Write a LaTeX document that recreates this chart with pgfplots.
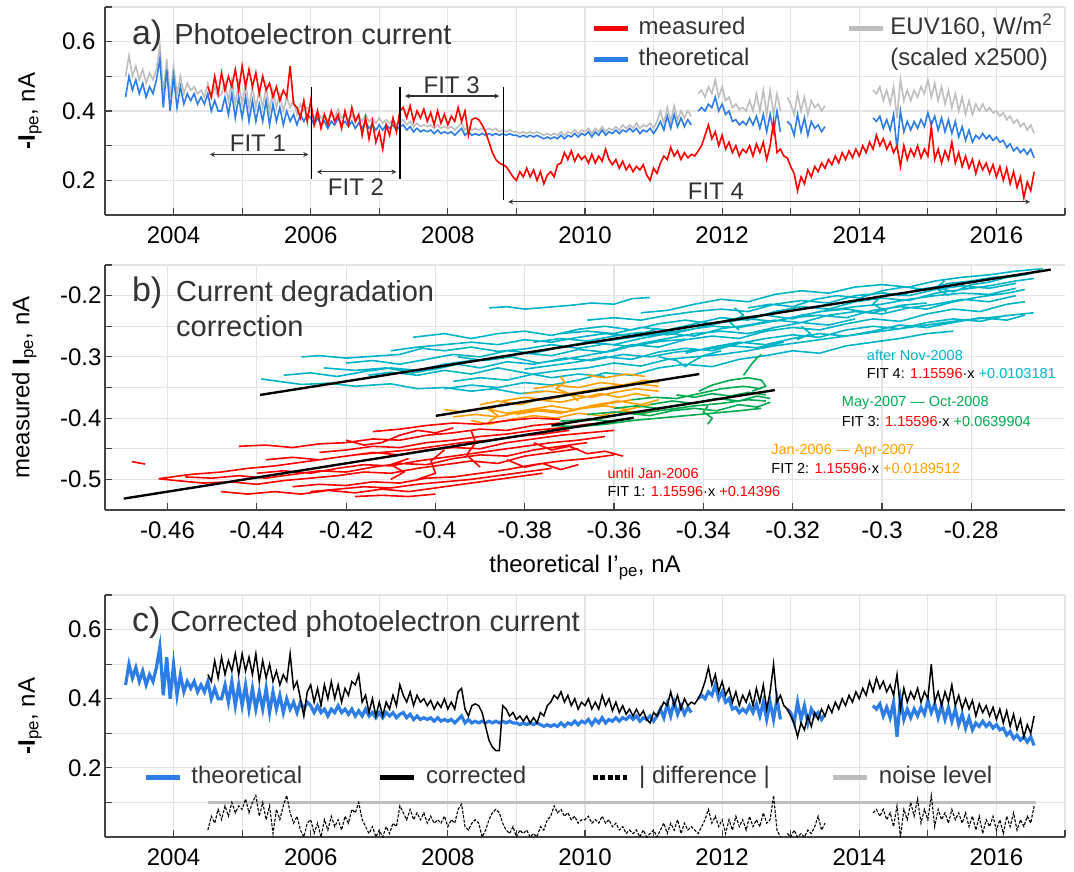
\documentclass[border=0pt]{standalone}
\usepackage{fontspec}
\setmainfont{Liberation Sans}
\usepackage{pgfplots}
\usepackage{pgfplotstable}
\pgfplotsset{compat=1.18}
\definecolor{cred}{RGB}{255,0,0}
\definecolor{cblue}{RGB}{45,125,230}
\definecolor{cgray}{RGB}{190,190,190}
\definecolor{ccyan}{RGB}{0,180,200}
\definecolor{corange}{RGB}{255,160,0}
\definecolor{cgreen}{RGB}{0,170,80}
\definecolor{ctext}{RGB}{51,51,51}
\definecolor{cgrid}{RGB}{228,228,228}
\definecolor{caxis}{RGB}{68,68,68}

\pgfplotstableread{
t theo euv meas corr diff
2003.30 0.44 0.50 nan nan nan
2003.35 0.50 0.56 nan nan nan
2003.40 0.46 0.50 nan nan nan
2003.45 0.49 0.53 nan nan nan
2003.50 0.45 0.49 nan nan nan
2003.55 0.48 0.52 nan nan nan
2003.60 0.44 0.48 nan nan nan
2003.65 0.47 0.51 nan nan nan
2003.70 0.45 0.49 nan nan nan
2003.75 0.49 0.52 nan nan nan
2003.80 0.55 0.59 nan nan nan
2003.85 0.41 0.45 nan nan nan
2003.90 0.52 0.55 nan nan nan
2003.95 0.40 0.44 nan nan nan
2004.00 0.50 0.53 nan nan nan
2004.05 0.41 0.45 nan nan nan
2004.10 0.47 0.50 nan nan nan
2004.15 0.42 0.45 nan nan nan
2004.20 0.45 0.48 nan nan nan
2004.25 0.43 0.46 nan nan nan
2004.30 0.45 0.47 nan nan nan
2004.35 0.42 0.45 nan nan nan
2004.40 0.44 0.46 nan nan nan
2004.45 0.42 0.44 nan nan nan
2004.50 0.45 0.48 0.47 0.47 0.02
2004.55 0.40 0.44 0.44 0.45 0.06
2004.60 0.43 0.47 0.50 0.51 0.04
2004.65 0.40 0.44 0.45 0.46 0.08
2004.70 0.40 0.45 0.51 0.52 0.05
2004.75 0.44 0.48 0.46 0.47 0.09
2004.80 0.39 0.43 0.50 0.51 0.06
2004.85 0.45 0.49 0.47 0.48 0.10
2004.90 0.38 0.42 0.52 0.53 0.07
2004.95 0.44 0.48 0.46 0.47 0.09
2005.00 0.38 0.42 0.53 0.53 0.08
2005.05 0.44 0.48 0.47 0.48 0.11
2005.10 0.37 0.41 0.52 0.52 0.07
2005.15 0.43 0.47 0.47 0.47 0.10
2005.20 0.37 0.41 0.51 0.53 0.12
2005.25 0.42 0.46 0.45 0.45 0.06
2005.30 0.37 0.41 0.50 0.51 0.10
2005.35 0.43 0.47 0.46 0.46 0.05
2005.40 0.36 0.40 0.48 0.50 0.09
2005.45 0.42 0.46 0.44 0.45 0.01
2005.50 0.37 0.41 0.47 0.48 0.08
2005.55 0.41 0.45 0.43 0.44 0.05
2005.60 0.36 0.40 0.46 0.47 0.09
2005.65 0.40 0.44 0.44 0.45 0.12
2005.70 0.37 0.41 0.53 0.53 0.07
2005.75 0.39 0.43 0.42 0.43 0.04
2005.80 0.36 0.39 0.41 0.45 0.06
2005.85 0.39 0.42 0.38 0.40 0.02
2005.90 0.37 0.40 0.43 0.35 0.00
2005.95 0.39 0.41 0.37 0.42 0.04
2006.00 0.38 0.40 0.43 0.44 0.05
2006.05 0.36 0.38 0.36 0.39 0.01
2006.10 0.38 0.40 0.40 0.43 0.04
2006.15 0.36 0.38 0.35 0.38 0.00
2006.20 0.37 0.39 0.39 0.44 0.05
2006.25 0.35 0.37 0.36 0.40 0.02
2006.30 0.37 0.395 0.40 0.45 0.06
2006.35 0.36 0.38 0.37 0.40 0.03
2006.40 0.38 0.405 0.39 0.44 0.05
2006.45 0.36 0.38 0.35 0.39 0.02
2006.50 0.37 0.39 0.40 0.43 0.06
2006.55 0.355 0.375 0.36 0.41 0.04
2006.60 0.37 0.39 0.41 0.45 0.08
2006.65 0.35 0.37 0.37 0.44 0.07
2006.70 0.365 0.385 0.39 0.47 0.10
2006.75 0.35 0.37 0.33 0.39 0.05
2006.80 0.37 0.39 0.38 0.41 0.03
2006.85 0.35 0.37 0.32 0.36 0.01
2006.90 0.36 0.38 0.37 0.40 0.03
2006.95 0.345 0.365 0.31 0.35 0.00
2007.00 0.36 0.38 0.34 0.39 0.02
2007.05 0.345 0.365 0.29 0.35 0.00
2007.10 0.36 0.375 0.36 0.39 0.03
2007.15 0.35 0.365 0.33 0.37 0.01
2007.20 0.36 0.375 0.38 0.41 0.04
2007.25 0.345 0.36 0.34 0.38 0.03
2007.30 0.355 0.37 0.40 0.44 0.09
2007.35 0.36 0.375 0.41 0.41 0.07
2007.40 0.345 0.36 0.38 0.39 0.05
2007.45 0.355 0.37 0.415 0.42 0.08
2007.50 0.34 0.355 0.37 0.38 0.05
2007.55 0.35 0.365 0.40 0.41 0.07
2007.60 0.34 0.355 0.38 0.39 0.05
2007.65 0.345 0.36 0.405 0.40 0.07
2007.70 0.34 0.355 0.37 0.38 0.04
2007.75 0.345 0.36 0.395 0.395 0.06
2007.80 0.335 0.35 0.36 0.37 0.04
2007.85 0.345 0.36 0.40 0.39 0.05
2007.90 0.335 0.35 0.365 0.375 0.04
2007.95 0.34 0.355 0.39 0.40 0.06
2008.00 0.335 0.35 0.36 0.37 0.03
2008.05 0.34 0.355 0.385 0.39 0.05
2008.10 0.33 0.345 0.37 0.37 0.04
2008.15 0.34 0.355 0.41 0.42 0.08
2008.20 0.35 0.365 0.37 0.43 0.095
2008.25 0.33 0.345 0.40 0.37 0.03
2008.30 0.34 0.355 0.33 0.35 0.02
2008.35 0.33 0.345 0.375 0.38 0.04
2008.40 0.335 0.35 0.38 0.385 0.05
2008.45 0.33 0.345 0.375 0.38 0.04
2008.50 0.335 0.35 0.36 0.36 0.00
2008.55 0.33 0.345 0.34 0.32 0.02
2008.60 0.335 0.35 0.31 0.28 0.05
2008.65 0.33 0.345 0.28 0.26 0.07
2008.70 0.335 0.35 0.26 0.25 0.08
2008.75 0.33 0.34 0.25 0.25 0.07
2008.80 0.335 0.345 0.245 0.38 0.04
2008.85 0.33 0.34 0.24 0.37 0.02
2008.90 0.335 0.345 0.225 0.35 0.01
2008.95 0.33 0.34 0.21 0.36 0.03
2009.00 0.33 0.34 0.20 0.34 0.00
2009.05 0.325 0.335 0.225 0.35 0.02
2009.10 0.33 0.34 0.21 0.335 0.01
2009.15 0.325 0.335 0.235 0.35 0.02
2009.20 0.33 0.34 0.21 0.33 0.00
2009.25 0.325 0.335 0.23 0.345 0.01
2009.30 0.33 0.34 0.20 0.33 0.00
2009.35 0.325 0.335 0.225 0.36 0.03
2009.40 0.32 0.33 0.19 0.35 0.02
2009.45 0.325 0.335 0.215 0.38 0.05
2009.50 0.32 0.33 0.225 0.39 0.06
2009.55 0.325 0.335 0.21 0.41 0.09
2009.60 0.32 0.33 0.245 0.40 0.07
2009.65 0.33 0.34 0.25 0.42 0.08
2009.70 0.32 0.33 0.28 0.39 0.06
2009.75 0.33 0.34 0.26 0.41 0.07
2009.80 0.325 0.335 0.285 0.38 0.05
2009.85 0.335 0.345 0.255 0.40 0.06
2009.90 0.325 0.335 0.275 0.37 0.04
2009.95 0.335 0.345 0.26 0.39 0.05
2010.00 0.33 0.34 0.27 0.38 0.05
2010.05 0.34 0.35 0.25 0.40 0.06
2010.10 0.325 0.335 0.275 0.37 0.04
2010.15 0.34 0.35 0.25 0.39 0.05
2010.20 0.33 0.34 0.27 0.37 0.04
2010.25 0.345 0.355 0.255 0.41 0.06
2010.30 0.33 0.34 0.29 0.38 0.04
2010.35 0.34 0.35 0.26 0.40 0.05
2010.40 0.335 0.345 0.245 0.365 0.03
2010.45 0.345 0.355 0.26 0.39 0.04
2010.50 0.335 0.345 0.235 0.36 0.02
2010.55 0.345 0.36 0.255 0.38 0.03
2010.60 0.34 0.35 0.23 0.355 0.01
2010.65 0.35 0.36 0.245 0.37 0.02
2010.70 0.34 0.35 0.225 0.35 0.01
2010.75 0.35 0.365 0.24 0.37 0.02
2010.80 0.335 0.35 0.23 0.35 0.00
2010.85 0.345 0.36 0.245 0.365 0.02
2010.90 0.34 0.355 0.215 0.34 0.00
2010.95 0.35 0.365 0.20 0.33 0.01
2011.00 0.335 0.35 0.235 0.36 0.02
2011.05 0.35 0.37 0.22 0.35 0.00
2011.10 0.37 0.40 0.25 0.37 0.02
2011.15 0.345 0.365 0.27 0.39 0.04
2011.20 0.385 0.41 0.26 0.38 0.01
2011.25 0.35 0.37 0.295 0.42 0.04
2011.30 0.39 0.415 0.27 0.38 0.02
2011.35 0.355 0.375 0.285 0.41 0.05
2011.40 0.38 0.40 0.26 0.37 0.01
2011.45 0.355 0.38 0.28 0.40 0.04
2011.50 0.375 0.40 0.265 0.38 0.02
2011.55 0.36 0.385 0.275 0.39 0.03
2011.60 nan nan 0.27 0.385 0.02
2011.65 0.40 0.45 0.285 0.40 0.01
2011.70 0.41 0.46 0.30 0.42 0.03
2011.75 0.40 0.44 0.33 0.45 0.05
2011.80 0.42 0.47 0.36 0.49 0.08
2011.85 0.41 0.45 0.32 0.44 0.04
2011.90 0.44 0.49 0.34 0.47 0.06
2011.95 0.40 0.44 0.30 0.42 0.03
2012.00 0.42 0.47 0.33 0.45 0.05
2012.05 0.39 0.43 0.29 0.41 0.01
2012.10 0.40 0.44 0.31 0.43 0.05
2012.15 0.37 0.41 0.28 0.39 0.02
2012.20 0.375 0.42 0.30 0.42 0.06
2012.25 0.36 0.405 0.27 0.38 0.03
2012.30 0.37 0.41 0.29 0.41 0.05
2012.35 0.36 0.40 0.28 0.39 0.02
2012.40 0.38 0.43 0.30 0.42 0.06
2012.45 0.36 0.40 0.27 0.38 0.03
2012.50 0.385 0.45 0.305 0.43 0.05
2012.55 0.35 0.40 0.28 0.39 0.03
2012.60 0.39 0.46 0.31 0.44 0.07
2012.65 0.34 0.39 0.26 0.37 0.04
2012.70 0.39 0.46 0.30 0.42 0.05
2012.75 0.34 0.39 0.37 0.50 0.12
2012.80 0.40 0.45 0.28 0.39 0.02
2012.85 0.34 0.40 0.29 0.41 0.00
2012.90 nan nan 0.27 0.38 nan
2012.95 0.37 0.44 0.265 0.37 0.01
2013.00 0.36 0.42 0.24 0.35 0.00
2013.05 0.33 0.39 0.22 0.33 0.02
2013.10 0.39 0.45 0.17 0.29 0.00
2013.15 0.34 0.40 0.21 0.33 0.01
2013.20 0.38 0.44 0.19 0.31 0.00
2013.25 0.33 0.39 0.23 0.35 0.02
2013.30 0.37 0.43 0.21 0.32 0.01
2013.35 0.35 0.41 0.24 0.36 0.03
2013.40 0.36 0.42 0.225 0.34 0.06
2013.45 0.34 0.40 0.25 0.37 0.02
2013.50 0.355 0.415 0.235 0.35 0.04
2013.55 nan nan 0.26 0.38 nan
2013.60 nan nan 0.245 0.36 nan
2013.65 nan nan 0.27 0.39 nan
2013.70 nan nan 0.25 0.37 nan
2013.75 nan nan 0.28 0.40 nan
2013.80 nan nan 0.26 0.38 nan
2013.85 nan nan 0.285 0.41 nan
2013.90 nan nan 0.265 0.39 nan
2013.95 nan nan 0.29 0.42 nan
2014.00 nan nan 0.27 0.40 nan
2014.05 nan nan 0.30 0.43 nan
2014.10 nan nan 0.28 0.41 nan
2014.15 nan nan 0.31 0.45 nan
2014.20 0.38 0.46 0.29 0.42 0.07
2014.25 0.37 0.45 0.33 0.46 0.08
2014.30 0.385 0.47 0.30 0.43 0.06
2014.35 0.35 0.43 0.32 0.45 0.08
2014.40 0.375 0.46 0.29 0.42 0.05
2014.45 0.345 0.42 0.31 0.44 0.07
2014.50 0.39 0.47 0.28 0.41 0.03
2014.55 0.29 0.38 0.30 0.47 0.09
2014.60 0.40 0.49 0.24 0.37 0.00
2014.65 0.34 0.43 0.30 0.43 0.08
2014.70 0.37 0.46 0.26 0.39 0.05
2014.75 0.345 0.43 0.29 0.42 0.10
2014.80 0.37 0.46 0.27 0.40 0.06
2014.85 0.35 0.44 0.30 0.43 0.11
2014.90 0.375 0.47 0.265 0.39 0.04
2014.95 0.355 0.45 0.29 0.42 0.08
2015.00 0.395 0.49 0.27 0.40 0.05
2015.05 0.36 0.44 0.355 0.50 0.12
2015.10 0.385 0.48 0.26 0.39 0.03
2015.15 0.345 0.43 0.29 0.42 0.08
2015.20 0.38 0.47 0.25 0.38 0.05
2015.25 0.34 0.42 0.285 0.42 0.07
2015.30 0.375 0.46 0.26 0.39 0.04
2015.35 0.335 0.41 0.31 0.44 0.08
2015.40 0.37 0.45 0.25 0.38 0.05
2015.45 0.325 0.40 0.28 0.41 0.07
2015.50 0.355 0.44 0.24 0.37 0.04
2015.55 0.315 0.39 0.27 0.40 0.07
2015.60 0.345 0.43 0.235 0.37 0.03
2015.65 0.31 0.39 0.26 0.395 0.06
2015.70 0.33 0.42 0.22 0.35 0.02
2015.75 0.32 0.40 0.255 0.385 0.06
2015.80 0.335 0.42 0.23 0.36 0.01
2015.85 0.32 0.40 0.25 0.38 0.05
2015.90 0.33 0.41 0.22 0.35 0.03
2015.95 0.315 0.395 0.245 0.375 0.06
2016.00 0.325 0.40 0.21 0.34 0.02
2016.05 0.31 0.385 0.24 0.37 0.05
2016.10 0.315 0.395 0.20 0.33 0.01
2016.15 0.295 0.375 0.235 0.365 0.06
2016.20 0.305 0.385 0.19 0.32 0.03
2016.25 0.285 0.365 0.225 0.355 0.07
2016.30 0.295 0.375 0.18 0.31 0.02
2016.35 0.28 0.355 0.21 0.34 0.05
2016.40 0.29 0.365 0.15 0.29 0.03
2016.45 0.275 0.345 0.195 0.325 0.06
2016.50 0.29 0.36 0.17 0.30 0.04
2016.55 0.265 0.335 0.225 0.35 0.09
}\tsdata

\pgfplotsset{
  base/.style={
    scale only axis, width=960pt,
    axis x line*=bottom, axis y line*=left,
    axis line style={caxis, line width=1.5pt},
    tick style={caxis, line width=1.2pt},
    tick align=inside, major tick length=7pt, minor tick length=7pt,
    grid=both,
    major grid style={cgrid, line width=1.2pt},
    minor grid style={cgrid, line width=1.2pt},
    tick label style={font=\fontsize{24}{28}\selectfont, text=black},
    /pgf/number format/assume math mode=true,
    label style={font=\fontsize{24}{28}\selectfont, text=black},
    unbounded coords=jump,
    no markers,
    legend cell align=left,
    legend image code/.code={\draw[##1] (0pt,0pt) -- (34pt,0pt);},
  },
  leg/.style={
    draw=none, fill=none, inner sep=0pt, outer sep=0pt,
    font=\fontsize{24}{28}\selectfont, text=ctext,
    nodes={inner sep=0pt, text height=17pt, text depth=5pt},
  },
  trk/.style={line width=1.6pt, line join=round, forget plot},
}

\begin{document}
\begin{tikzpicture}
\useasboundingbox (0pt,0pt) rectangle (1074pt,-871pt);

% ---------------- panel a ----------------
\begin{axis}[base, at={(105pt,-7pt)}, anchor=north west, height=208pt,
  xmin=2003, xmax=2017, ymin=0.1, ymax=0.7,
  xtick={2004,2006,2008,2010,2012,2014,2016},
  minor xtick={2003,2005,2007,2009,2011,2013,2015,2017},
  ytick={0.2,0.4,0.6}, minor ytick={0.1,0.3,0.5,0.7},
  xticklabel style={/pgf/number format/1000 sep={}, yshift=-8pt},
  yticklabel style={xshift=-6pt},
  ylabel={\textbf{-I}\textsubscript{pe}, nA},
  ylabel style={at={(axis description cs:-0.078,0.5)}, anchor=center},
  legend columns=2,
  legend style={leg, at={(rel axis cs:0.507,0.822)}, anchor=west, row sep=9.7pt,
    /tikz/column 1/.style={column sep=8pt},
    /tikz/column 2/.style={column sep=97pt},
    /tikz/column 3/.style={column sep=5pt}},
]
\addlegendimage{cred, line width=5pt}\addlegendentry{measured}
\addlegendimage{cgray, line width=5pt}\addlegendentry{EUV160, W/m\textsuperscript{2}}
\addlegendimage{cblue, line width=5pt}\addlegendentry{theoretical}
\addlegendimage{empty legend}\addlegendentry{(scaled x2500)}

\addplot[cgray, line width=1.6pt, forget plot] table[x=t, y=euv] {\tsdata};
\addplot[cblue, line width=1.6pt, forget plot] table[x=t, y=theo] {\tsdata};
\addplot[cred, line width=1.6pt, forget plot] table[x=t, y=meas] {\tsdata};

\draw[black, line width=1.6pt] (axis cs:2006.01,0.469) -- (axis cs:2006.01,0.203);
\draw[black, line width=1.6pt] (axis cs:2007.30,0.469) -- (axis cs:2007.30,0.203);
\draw[black, line width=1.6pt] (axis cs:2008.81,0.469) -- (axis cs:2008.81,0.143);
\draw[<->, >=stealth, ctext, line width=1.2pt] (axis cs:2004.53,0.2745) -- (axis cs:2005.965,0.2745);
\draw[<->, >=stealth, ctext, line width=1.2pt] (axis cs:2006.09,0.2245) -- (axis cs:2007.25,0.2245);
\draw[<->, >=stealth, ctext, line width=1.2pt] (axis cs:2007.375,0.443) -- (axis cs:2008.75,0.443);
\draw[<->, >=stealth, ctext, line width=1.2pt] (axis cs:2008.88,0.138) -- (axis cs:2016.49,0.138);
\node[anchor=base, inner sep=0pt, text=ctext, font=\fontsize{24}{28}\selectfont] at (axis cs:2005.23,0.282) {FIT 1};
\node[anchor=base, inner sep=0pt, text=ctext, font=\fontsize{24}{28}\selectfont] at (axis cs:2006.66,0.157) {FIT 2};
\node[anchor=base, inner sep=0pt, text=ctext, font=\fontsize{24}{28}\selectfont] at (axis cs:2008.055,0.450) {FIT 3};
\node[anchor=base, inner sep=0pt, text=ctext, font=\fontsize{24}{28}\selectfont] at (axis cs:2011.91,0.146) {FIT 4};
\node[anchor=base west, inner sep=0pt, text=ctext] at (rel axis cs:0.028,0.822)
  {\fontsize{34}{40}\selectfont a)\hspace{12pt}\fontsize{29}{34}\selectfont Photoelectron current};
\end{axis}

% ---------------- panel b ----------------
\begin{axis}[base, at={(105pt,-265pt)}, anchor=north west, height=245pt,
  xmin=-0.474, xmax=-0.259, ymin=-0.55, ymax=-0.15,
  xtick={-0.46,-0.44,-0.42,-0.40,-0.38,-0.36,-0.34,-0.32,-0.30,-0.28},
  ytick={-0.5,-0.4,-0.3,-0.2}, minor ytick={-0.55,-0.45,-0.35,-0.25,-0.15},
  xticklabel style={yshift=-8pt},
  ylabel={measured \textbf{I}\textsubscript{pe}, nA},
  ylabel style={at={(axis description cs:-0.084,0.5)}, anchor=center},
  xlabel={theoretical I’\textsubscript{pe}, nA},
  xlabel style={at={(axis description cs:0.5,-0.255)}, anchor=base},
]
% after Nov-2008
\addplot[ccyan, trk] coordinates {
(-0.439,-0.336) (-0.435,-0.340) (-0.430,-0.345) (-0.424,-0.343) (-0.418,-0.348) (-0.410,-0.344) (-0.404,-0.352) (-0.398,-0.350) (-0.392,-0.356) (-0.387,-0.352) (-0.381,-0.360) (-0.376,-0.356) (nan,nan)
(-0.430,-0.300) (-0.426,-0.298) (-0.420,-0.302) (-0.414,-0.299) (-0.408,-0.296) (-0.403,-0.286) (-0.398,-0.290) (-0.392,-0.284) (-0.386,-0.291) (-0.380,-0.287) (-0.374,-0.280) (-0.368,-0.286) (-0.362,-0.279) (-0.356,-0.283) (-0.350,-0.275) (-0.344,-0.271) (nan,nan)
(-0.425,-0.318) (-0.418,-0.322) (-0.411,-0.318) (-0.405,-0.326) (-0.400,-0.320) (-0.395,-0.312) (-0.390,-0.318) (-0.384,-0.308) (-0.378,-0.312) (-0.371,-0.302) (-0.365,-0.306) (-0.358,-0.296) (-0.352,-0.300) (-0.346,-0.292) (-0.340,-0.288) (-0.334,-0.282) (-0.328,-0.285) (-0.322,-0.276) (nan,nan)
(-0.388,-0.220) (-0.384,-0.218) (-0.380,-0.222) (-0.375,-0.219) (-0.370,-0.216) (-0.365,-0.212) (-0.360,-0.214) (-0.356,-0.205) (-0.352,-0.203) (nan,nan)
(-0.405,-0.268) (-0.398,-0.262) (-0.392,-0.270) (-0.386,-0.262) (-0.380,-0.258) (-0.374,-0.265) (-0.368,-0.255) (-0.362,-0.250) (-0.356,-0.256) (-0.350,-0.246) (-0.344,-0.240) (-0.338,-0.246) (-0.332,-0.236) (-0.326,-0.232) (-0.320,-0.238) (-0.314,-0.226) (-0.308,-0.222) (-0.302,-0.228) (-0.296,-0.216) (-0.290,-0.212) (nan,nan)
(-0.396,-0.340) (-0.390,-0.334) (-0.384,-0.338) (-0.378,-0.328) (-0.372,-0.322) (-0.366,-0.318) (-0.360,-0.310) (-0.354,-0.315) (-0.348,-0.304) (-0.342,-0.300) (-0.336,-0.296) (-0.330,-0.290) (-0.324,-0.282) (-0.318,-0.276) (-0.312,-0.270) (-0.306,-0.264) (-0.300,-0.258) (-0.294,-0.252) (-0.288,-0.246) (-0.282,-0.240) (-0.276,-0.236) (-0.270,-0.231) (-0.266,-0.228) (nan,nan)
(-0.386,-0.300) (-0.380,-0.294) (-0.374,-0.298) (-0.368,-0.288) (-0.362,-0.292) (-0.356,-0.280) (-0.350,-0.284) (-0.344,-0.272) (-0.338,-0.266) (-0.332,-0.270) (-0.326,-0.258) (-0.320,-0.252) (-0.314,-0.256) (-0.308,-0.246) (-0.302,-0.238) (-0.296,-0.242) (-0.290,-0.230) (-0.284,-0.222) (-0.278,-0.226) (-0.272,-0.214) (-0.268,-0.210) (nan,nan)
(-0.372,-0.262) (-0.366,-0.258) (-0.360,-0.262) (-0.354,-0.252) (-0.348,-0.256) (-0.342,-0.246) (-0.336,-0.236) (-0.330,-0.240) (-0.324,-0.226) (-0.318,-0.218) (-0.312,-0.222) (-0.306,-0.210) (-0.300,-0.204) (-0.294,-0.208) (-0.288,-0.196) (-0.282,-0.190) (-0.276,-0.184) (-0.270,-0.176) (-0.266,-0.172) (nan,nan)
(-0.354,-0.228) (-0.348,-0.224) (-0.342,-0.214) (-0.336,-0.206) (-0.330,-0.210) (-0.324,-0.198) (-0.318,-0.192) (-0.312,-0.196) (-0.306,-0.186) (-0.300,-0.182) (-0.294,-0.186) (-0.288,-0.176) (-0.282,-0.170) (-0.276,-0.166) (-0.270,-0.160) (-0.264,-0.156) (nan,nan)
(-0.380,-0.320) (-0.374,-0.314) (-0.368,-0.308) (-0.362,-0.300) (-0.356,-0.304) (-0.350,-0.292) (-0.344,-0.286) (-0.338,-0.290) (-0.332,-0.278) (-0.326,-0.270) (-0.320,-0.264) (-0.314,-0.268) (-0.308,-0.256) (-0.302,-0.250) (-0.296,-0.254) (-0.290,-0.244) (-0.284,-0.238) (-0.278,-0.242) (-0.272,-0.232) (nan,nan)
(-0.350,-0.300) (-0.346,-0.306) (-0.344,-0.316) (-0.343,-0.310) (-0.340,-0.298) (-0.336,-0.290) (nan,nan)
(-0.362,-0.274) (-0.356,-0.268) (-0.350,-0.262) (-0.344,-0.256) (-0.338,-0.250) (-0.332,-0.252) (-0.326,-0.244) (-0.320,-0.236) (-0.314,-0.232) (-0.308,-0.236) (-0.302,-0.224) (-0.296,-0.218) (-0.290,-0.222) (-0.284,-0.210) (-0.278,-0.202) (-0.272,-0.196) (-0.268,-0.190) (nan,nan)
(-0.395,-0.300) (-0.389,-0.306) (-0.383,-0.300) (-0.377,-0.310) (-0.371,-0.304) (-0.365,-0.296) (-0.360,-0.290) (-0.354,-0.278) (-0.348,-0.270) (-0.342,-0.262) (-0.336,-0.258) (-0.330,-0.262) (-0.324,-0.252) (-0.318,-0.244) (-0.312,-0.248) (-0.306,-0.238) (nan,nan)
(-0.415,-0.330) (-0.410,-0.325) (-0.404,-0.330) (-0.398,-0.322) (-0.392,-0.328) (-0.386,-0.318) (-0.380,-0.326) (-0.374,-0.334) (-0.368,-0.328) (-0.362,-0.332) (nan,nan)
(-0.300,-0.195) (-0.296,-0.200) (-0.292,-0.190) (-0.288,-0.186) (-0.284,-0.194) (-0.280,-0.182) (-0.276,-0.178) (-0.272,-0.170) (-0.268,-0.166) (-0.265,-0.160) (nan,nan)
(-0.420,-0.310) (-0.414,-0.306) (-0.408,-0.312) (-0.402,-0.304) (-0.396,-0.296) (-0.390,-0.300) (-0.384,-0.290) (-0.378,-0.294) (-0.372,-0.284) (-0.366,-0.276) (-0.360,-0.280) (-0.354,-0.270) (-0.348,-0.262) (-0.342,-0.266) (-0.336,-0.254) (-0.330,-0.248) (-0.324,-0.240) (-0.318,-0.244) (-0.312,-0.232) (-0.306,-0.226) (-0.300,-0.230) (-0.294,-0.220) (-0.288,-0.214) (-0.282,-0.206) (-0.276,-0.210) (-0.270,-0.200) (nan,nan)
(-0.398,-0.352) (-0.392,-0.346) (-0.386,-0.350) (-0.380,-0.342) (-0.374,-0.346) (-0.368,-0.338) (-0.362,-0.326) (-0.356,-0.330) (-0.350,-0.318) (-0.344,-0.312) (-0.338,-0.316) (-0.332,-0.304) (-0.326,-0.298) (-0.320,-0.290) (-0.314,-0.294) (-0.308,-0.282) (-0.302,-0.276) (-0.296,-0.270) (-0.290,-0.262) (-0.284,-0.258) (nan,nan)
(-0.366,-0.240) (-0.360,-0.236) (-0.354,-0.240) (-0.348,-0.232) (-0.342,-0.226) (-0.336,-0.222) (-0.330,-0.226) (-0.324,-0.214) (-0.318,-0.208) (-0.312,-0.212) (-0.306,-0.200) (-0.300,-0.196) (-0.294,-0.200) (-0.288,-0.190) (-0.282,-0.184) (-0.276,-0.188) (-0.270,-0.180) (nan,nan)
(-0.378,-0.276) (-0.372,-0.270) (-0.366,-0.274) (-0.360,-0.266) (-0.354,-0.260) (-0.348,-0.264) (-0.342,-0.254) (-0.336,-0.244) (-0.330,-0.238) (-0.324,-0.242) (-0.318,-0.232) (-0.312,-0.224) (-0.306,-0.218) (-0.300,-0.214) (-0.294,-0.206) (-0.288,-0.200) (-0.282,-0.196) (-0.276,-0.198) (-0.270,-0.188) (nan,nan)
(-0.410,-0.290) (-0.404,-0.284) (-0.398,-0.280) (-0.392,-0.276) (-0.386,-0.280) (-0.380,-0.272) (-0.374,-0.276) (-0.368,-0.268) (-0.362,-0.262) (-0.356,-0.266) (-0.350,-0.254) (nan,nan)
(-0.344,-0.294) (-0.338,-0.284) (-0.332,-0.276) (-0.326,-0.280) (-0.320,-0.270) (-0.314,-0.262) (-0.308,-0.266) (-0.302,-0.258) (-0.296,-0.248) (-0.290,-0.252) (-0.284,-0.244) (-0.278,-0.236) (-0.272,-0.240) (-0.268,-0.232) (nan,nan)
(-0.330,-0.220) (-0.325,-0.214) (-0.320,-0.218) (-0.315,-0.206) (-0.310,-0.200) (-0.305,-0.204) (-0.300,-0.192) (-0.295,-0.186) (-0.290,-0.190) (-0.285,-0.180) (-0.280,-0.176) (-0.275,-0.170) (-0.270,-0.168) (nan,nan)
(-0.333,-0.220) (-0.331,-0.232) (-0.334,-0.244) (-0.332,-0.256) (nan,nan)
(-0.318,-0.250) (-0.316,-0.262) (-0.319,-0.272) (nan,nan)
(-0.300,-0.200) (-0.302,-0.214) (-0.299,-0.226) (nan,nan)
(-0.286,-0.176) (-0.288,-0.188) (-0.285,-0.200) (nan,nan)
(-0.434,-0.330) (-0.428,-0.326) (-0.422,-0.332) (-0.416,-0.324) (-0.410,-0.318) (-0.404,-0.322) (-0.398,-0.312) (-0.392,-0.306)
};
% Jan-2006 -- Apr-2007
\addplot[corange, trk] coordinates {
(-0.398,-0.386) (-0.394,-0.390) (-0.389,-0.384) (-0.384,-0.392) (-0.379,-0.386) (-0.374,-0.380) (-0.369,-0.386) (-0.364,-0.378) (-0.359,-0.372) (-0.354,-0.378) (-0.350,-0.370) (nan,nan)
(-0.392,-0.404) (-0.388,-0.410) (-0.383,-0.402) (-0.378,-0.396) (-0.373,-0.400) (-0.368,-0.392) (-0.363,-0.396) (-0.358,-0.388) (-0.353,-0.392) (-0.349,-0.384) (nan,nan)
(-0.385,-0.372) (-0.380,-0.366) (-0.375,-0.370) (-0.370,-0.362) (-0.365,-0.366) (-0.360,-0.358) (-0.355,-0.352) (-0.350,-0.356) (nan,nan)
(-0.378,-0.352) (-0.373,-0.346) (-0.368,-0.350) (-0.363,-0.342) (-0.358,-0.346) (-0.353,-0.338) (-0.350,-0.342) (nan,nan)
(-0.390,-0.378) (-0.386,-0.372) (-0.381,-0.378) (-0.377,-0.370) (-0.372,-0.374) (-0.368,-0.368) (-0.363,-0.360) (-0.359,-0.366) (-0.355,-0.360) (-0.352,-0.364) (nan,nan)
(-0.382,-0.394) (-0.377,-0.388) (-0.372,-0.392) (-0.367,-0.384) (-0.362,-0.380) (-0.357,-0.386) (-0.352,-0.378) (nan,nan)
(-0.372,-0.332) (-0.371,-0.342) (-0.373,-0.352) (-0.370,-0.360) (-0.368,-0.372) (nan,nan)
(-0.366,-0.330) (-0.362,-0.334) (-0.357,-0.328) (-0.353,-0.332) (nan,nan)
(-0.396,-0.398) (-0.391,-0.394) (-0.386,-0.398) (-0.381,-0.390) (-0.376,-0.386) (-0.371,-0.390) (-0.366,-0.382) (-0.361,-0.376) (-0.356,-0.370) (nan,nan)
(-0.380,-0.360) (-0.375,-0.356) (-0.370,-0.360) (-0.365,-0.354) (-0.360,-0.348) (-0.355,-0.344) (-0.350,-0.348) (nan,nan)
(-0.388,-0.406) (-0.386,-0.396) (-0.388,-0.386) (-0.385,-0.376)
};
% until Jan-2006
\addplot[cred, trk] coordinates {
(-0.462,-0.499) (-0.458,-0.502) (-0.452,-0.506) (-0.446,-0.504) (-0.440,-0.508) (-0.434,-0.502) (-0.428,-0.498) (-0.422,-0.494) (-0.416,-0.488) (-0.410,-0.490) (-0.404,-0.482) (-0.398,-0.476) (-0.392,-0.470) (-0.386,-0.474) (-0.380,-0.462) (-0.374,-0.456) (-0.368,-0.450) (nan,nan)
(-0.462,-0.499) (-0.455,-0.492) (-0.448,-0.488) (-0.442,-0.482) (-0.436,-0.478) (-0.430,-0.472) (-0.424,-0.466) (-0.418,-0.460) (-0.412,-0.456) (-0.406,-0.452) (-0.400,-0.446) (-0.394,-0.440) (-0.388,-0.436) (-0.382,-0.430) (-0.376,-0.426) (-0.370,-0.420) (nan,nan)
(-0.444,-0.446) (-0.438,-0.444) (-0.432,-0.448) (-0.426,-0.442) (-0.420,-0.440) (-0.414,-0.434) (-0.408,-0.436) (-0.402,-0.428) (-0.396,-0.424) (-0.390,-0.418) (-0.384,-0.420) (-0.378,-0.412) (-0.372,-0.408) (nan,nan)
(-0.448,-0.520) (-0.442,-0.524) (-0.436,-0.520) (-0.430,-0.524) (-0.424,-0.518) (-0.418,-0.522) (-0.412,-0.516) (-0.406,-0.520) (-0.400,-0.514) (-0.394,-0.508) (-0.388,-0.502) (-0.382,-0.496) (-0.376,-0.490) (nan,nan)
(-0.440,-0.490) (-0.434,-0.486) (-0.428,-0.490) (-0.422,-0.482) (-0.416,-0.476) (-0.410,-0.478) (-0.404,-0.470) (-0.398,-0.464) (-0.392,-0.458) (-0.386,-0.452) (-0.380,-0.446) (-0.374,-0.440) (-0.368,-0.436) (-0.362,-0.430) (nan,nan)
(-0.432,-0.512) (-0.426,-0.508) (-0.420,-0.510) (-0.414,-0.504) (-0.408,-0.506) (-0.402,-0.498) (-0.396,-0.496) (-0.390,-0.490) (-0.384,-0.484) (-0.378,-0.476) (-0.372,-0.470) (-0.366,-0.466) (-0.360,-0.460) (nan,nan)
(-0.426,-0.456) (-0.420,-0.452) (-0.414,-0.446) (-0.408,-0.448) (-0.402,-0.440) (-0.396,-0.436) (-0.390,-0.430) (-0.384,-0.426) (-0.378,-0.420) (-0.372,-0.416) (-0.366,-0.410) (-0.360,-0.408) (nan,nan)
(-0.414,-0.422) (-0.408,-0.418) (-0.402,-0.412) (-0.396,-0.408) (-0.390,-0.410) (-0.384,-0.404) (-0.378,-0.400) (-0.372,-0.402) (nan,nan)
(-0.392,-0.420) (-0.391,-0.440) (-0.393,-0.460) (-0.390,-0.480) (nan,nan)
(-0.404,-0.500) (-0.400,-0.490) (-0.401,-0.470) (-0.398,-0.452) (nan,nan)
(-0.378,-0.440) (-0.374,-0.452) (-0.370,-0.446) (-0.366,-0.458) (-0.362,-0.454) (-0.358,-0.462) (nan,nan)
(-0.468,-0.471) (-0.465,-0.475) (nan,nan)
(-0.418,-0.528) (-0.412,-0.526) (-0.406,-0.528) (-0.400,-0.524) (nan,nan)
(-0.384,-0.468) (-0.380,-0.480) (-0.376,-0.474) (-0.372,-0.484) (-0.368,-0.476) (nan,nan)
(-0.456,-0.496) (-0.450,-0.498) (-0.444,-0.494) (-0.438,-0.498) (-0.432,-0.492) (-0.426,-0.486) (-0.420,-0.488) (-0.414,-0.480) (-0.408,-0.474) (-0.402,-0.476) (-0.396,-0.466) (-0.390,-0.460) (-0.384,-0.462) (-0.378,-0.452) (-0.372,-0.446) (-0.366,-0.440) (nan,nan)
(-0.438,-0.468) (-0.432,-0.464) (-0.426,-0.468) (-0.420,-0.462) (-0.414,-0.456) (-0.408,-0.460) (-0.402,-0.452) (-0.396,-0.448) (-0.390,-0.450) (-0.384,-0.440) (-0.378,-0.434) (-0.372,-0.428) (-0.366,-0.424) (-0.360,-0.420) (nan,nan)
(-0.428,-0.520) (-0.422,-0.516) (-0.416,-0.512) (-0.410,-0.514) (-0.404,-0.508) (-0.398,-0.504) (-0.392,-0.500) (-0.386,-0.494) (-0.380,-0.488) (-0.374,-0.482) (nan,nan)
(-0.420,-0.436) (-0.416,-0.444) (-0.412,-0.440) (-0.408,-0.428) (-0.404,-0.420) (-0.400,-0.424) (-0.396,-0.416) (nan,nan)
(-0.410,-0.500) (-0.407,-0.488) (-0.410,-0.476) (-0.406,-0.466)
};
% May-2007 -- Oct-2008
\addplot[cgreen, trk] coordinates {
(-0.374,-0.412) (-0.368,-0.414) (-0.362,-0.410) (-0.356,-0.404) (-0.350,-0.400) (-0.344,-0.396) (-0.338,-0.392) (-0.332,-0.388) (-0.327,-0.384) (nan,nan)
(-0.362,-0.398) (-0.357,-0.392) (-0.352,-0.396) (-0.347,-0.388) (-0.342,-0.384) (-0.337,-0.388) (-0.332,-0.378) (-0.328,-0.382) (-0.325,-0.374) (nan,nan)
(-0.352,-0.378) (-0.347,-0.372) (-0.342,-0.376) (-0.337,-0.368) (-0.332,-0.372) (-0.328,-0.364) (-0.325,-0.368) (nan,nan)
(-0.341,-0.356) (-0.338,-0.346) (-0.334,-0.338) (-0.330,-0.334) (-0.327,-0.338) (-0.326,-0.348) (-0.329,-0.356) (nan,nan)
(-0.331,-0.330) (-0.330,-0.320) (-0.329,-0.310) (-0.328,-0.302) (-0.327,-0.296) (nan,nan)
(-0.339,-0.380) (-0.340,-0.390) (-0.338,-0.400) (-0.339,-0.410) (nan,nan)
(-0.346,-0.362) (-0.342,-0.366) (-0.338,-0.360) (-0.334,-0.364) (-0.330,-0.358) (-0.326,-0.362) (nan,nan)
(-0.360,-0.384) (-0.355,-0.380) (-0.350,-0.384) (-0.345,-0.378) (nan,nan)
(-0.372,-0.405) (-0.366,-0.402) (-0.360,-0.405) (nan,nan)
(-0.366,-0.394) (-0.360,-0.390) (-0.354,-0.392) (-0.348,-0.386) (-0.342,-0.380) (-0.336,-0.376) (-0.330,-0.370) (-0.326,-0.372) (nan,nan)
(-0.356,-0.370) (-0.351,-0.366) (-0.346,-0.368) (-0.341,-0.360) (-0.336,-0.352) (-0.331,-0.348) (-0.327,-0.352)
};
% fits
\addplot[black, line width=2.4pt, forget plot] coordinates {(-0.4698,-0.5314) (-0.3556,-0.3994)};
\addplot[black, line width=2.4pt, forget plot] coordinates {(-0.3999,-0.3962) (-0.3409,-0.3280)};
\addplot[black, line width=2.4pt, forget plot] coordinates {(-0.3740,-0.4120) (-0.3240,-0.3542)};
\addplot[black, line width=2.4pt, forget plot] coordinates {(-0.4393,-0.3622) (-0.2622,-0.1575)};

\node[anchor=west, inner sep=0pt, font=\fontsize{14.5}{17}\selectfont, text=ccyan] at (axis cs:-0.3034,-0.2974) {after Nov-2008};
\node[anchor=west, inner sep=0pt, font=\fontsize{14.5}{17}\selectfont, text=black] at (axis cs:-0.3034,-0.3265) {FIT 4: \textcolor{cred}{1.15596}·x \textcolor{ccyan}{+0.0103181}};
\node[anchor=west, inner sep=0pt, font=\fontsize{14.5}{17}\selectfont, text=cgreen] at (axis cs:-0.3090,-0.3756) {May-2007 — Oct-2008};
\node[anchor=west, inner sep=0pt, font=\fontsize{14.5}{17}\selectfont, text=black] at (axis cs:-0.3090,-0.4052) {FIT 3: \textcolor{cred}{1.15596}·x \textcolor{cgreen}{+0.0639904}};
\node[anchor=west, inner sep=0pt, font=\fontsize{14.5}{17}\selectfont, text=corange] at (axis cs:-0.3248,-0.4528) {Jan-2006 — Apr-2007};
\node[anchor=west, inner sep=0pt, font=\fontsize{14.5}{17}\selectfont, text=black] at (axis cs:-0.3248,-0.4820) {FIT 2: \textcolor{cred}{1.15596}·x \textcolor{corange}{+0.0189512}};
\node[anchor=west, inner sep=0pt, font=\fontsize{14.5}{17}\selectfont, text=cred] at (axis cs:-0.3615,-0.4909) {until Jan-2006};
\node[anchor=west, inner sep=0pt, font=\fontsize{14.5}{17}\selectfont, text=black] at (axis cs:-0.3615,-0.5200) {FIT 1: \textcolor{cred}{1.15596}·x \textcolor{cred}{+0.14396}};

\node[anchor=base west, inner sep=0pt, text=ctext] at (rel axis cs:0.028,0.853)
  {\fontsize{34}{40}\selectfont b)};
\node[anchor=base west, inner sep=0pt, text=ctext, font=\fontsize{29}{34}\selectfont] at (rel axis cs:0.074,0.853) {Current degradation};
\node[anchor=base west, inner sep=0pt, text=ctext, font=\fontsize{29}{34}\selectfont] at (rel axis cs:0.074,0.710) {correction};
\end{axis}

% ---------------- panel c ----------------
\begin{axis}[base, at={(105pt,-595pt)}, anchor=north west, height=242pt,
  xmin=2003, xmax=2017, ymin=0, ymax=0.7,
  xtick={2004,2006,2008,2010,2012,2014,2016},
  minor xtick={2003,2005,2007,2009,2011,2013,2015,2017},
  ytick={0.2,0.4,0.6}, minor ytick={0.1,0.3,0.5,0.7},
  xticklabel style={/pgf/number format/1000 sep={}, yshift=-8pt},
  ylabel={\textbf{-I}\textsubscript{pe}, nA},
  ylabel style={at={(axis description cs:-0.078,0.5)}, anchor=center},
  legend columns=4,
  legend style={leg, at={(rel axis cs:0.040,0.244)}, anchor=west,
    /tikz/column 1/.style={column sep=9pt},
    /tikz/column 2/.style={column sep=75pt},
    /tikz/column 3/.style={column sep=10pt},
    /tikz/column 4/.style={column sep=64pt},
    /tikz/column 5/.style={column sep=10pt},
    /tikz/column 6/.style={column sep=61pt},
    /tikz/column 7/.style={column sep=9pt}},
]
\addlegendimage{cblue, line width=5pt}\addlegendentry{theoretical}
\addlegendimage{black, line width=5pt}\addlegendentry{corrected}
\addlegendimage{black, line width=5pt, dash pattern=on 5pt off 2.5pt}\addlegendentry{| difference |}
\addlegendimage{cgray, line width=5pt}\addlegendentry{noise level}

\addplot[cgray, line width=3pt, forget plot] coordinates {(2004.5,0.1) (2016.57,0.1)};
\addplot[black, line width=1.1pt, dash pattern=on 3pt off 1.5pt, forget plot] table[x=t, y=diff] {\tsdata};
\addplot[cblue, line width=3.2pt, forget plot] table[x=t, y=theo] {\tsdata};
\addplot[black, line width=1.5pt, forget plot] table[x=t, y=corr] {\tsdata};

\node[anchor=base west, inner sep=0pt, text=ctext] at (rel axis cs:0.028,0.848)
  {\fontsize{34}{40}\selectfont c)\hspace{10pt}\fontsize{29}{34}\selectfont Corrected photoelectron current};
\end{axis}
\end{tikzpicture}
\end{document}
